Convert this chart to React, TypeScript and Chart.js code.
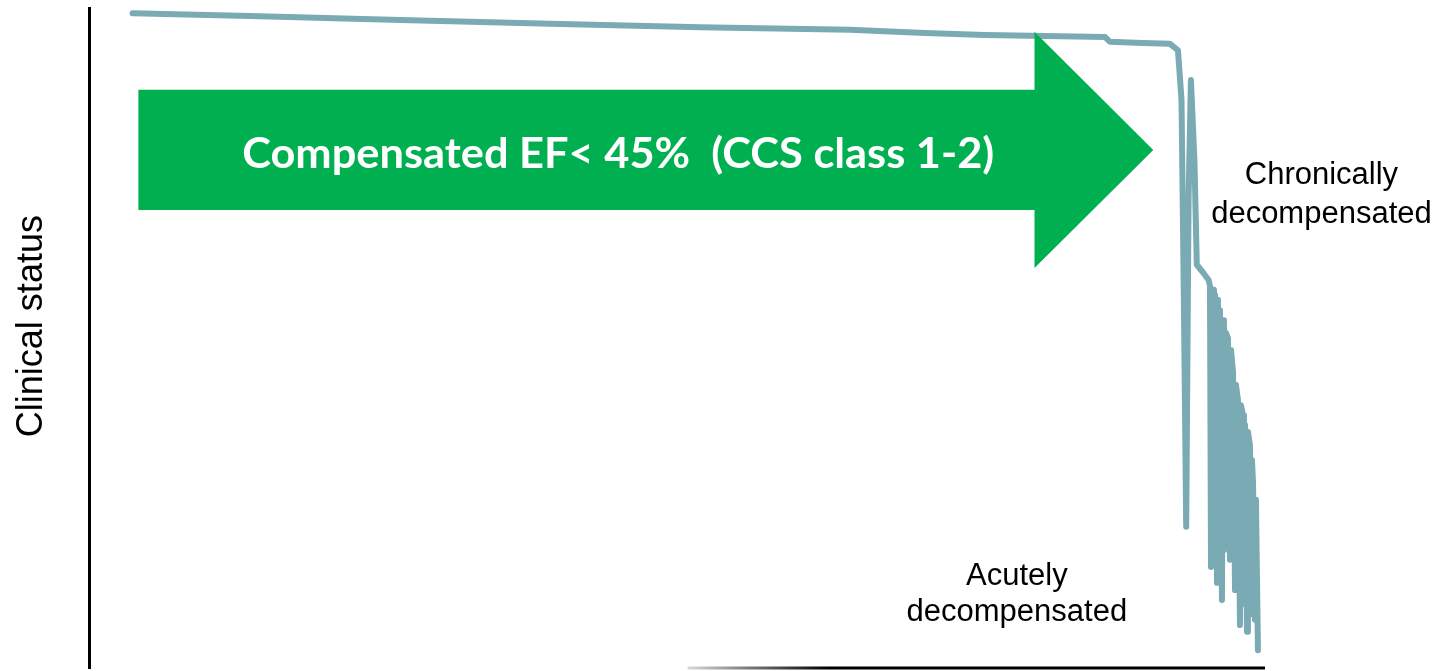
import React, { useEffect, useRef } from "react";
import { Chart, registerables } from "chart.js";

Chart.register(...registerables);

// Time (arbitrary units, 0..100) and clinical status (0..100)
const timeValues = [
  3.7, 13.7, 26.5, 39.2, 52.0, 64.7, 71.1, 76.2, 86.4, 86.8, 89.6, 91.9,
  92.6, 92.9, 93.1, 93.3, 93.5, 93.7, 94.0, 94.2, 94.7, 95.2,
  95.32, 95.41, 95.58, 95.66, 95.75, 95.92, 96.0, 96.09, 96.17, 96.34,
  96.43, 96.51, 96.68, 96.85, 97.02, 97.11, 97.28, 97.45, 97.53, 97.7,
  97.87, 97.96, 98.13, 98.21, 98.3, 98.47, 98.55, 98.72, 98.81, 98.89,
  98.98, 99.15, 99.23, 99.4,
];
const statusValues = [
  99.2, 98.8, 98.2, 97.6, 97.1, 96.7, 96.2, 95.9, 95.6, 94.9, 94.7, 94.6,
  93.6, 86.1, 55.8, 21.4, 70.9, 89.1, 77.0, 61.1, 60.0, 58.8,
  57.9, 15.3, 57.3, 19.4, 56.5, 12.9, 55.8, 16.4, 54.2, 10.3,
  52.7, 17.9, 50.8, 50.0, 16.4, 48.2, 44.8, 11.8, 42.9, 40.6,
  6.5, 39.8, 38.3, 9.7, 36.8, 5.5, 35.8, 33.8, 8.2, 31.5,
  28.2, 7.3, 25.5, 2.7,
];

const yAxisTitle = "Clinical status";
const arrowText = "Compensated EF< 45%  (CCS class 1-2)";
const chronicLabel = ["Chronically", "decompensated"];
const acuteLabel = ["Acutely", "decompensated"];

// arrow shape in data units [time, status]
const arrowBody = { t0: 4.2, t1: 80.4, sTop: 87.6, sBottom: 69.4 };
const arrowHead = { sTop: 96.4, sBottom: 60.6, tTip: 90.5, sTip: 78.5 };
const arrowTextPos = { t: 45.0, s: 75.8 };
const chronicPos = { t: 104.8, s: [73.3, 67.4] };
const acutePos = { t: 78.9, s: [12.6, 7.1] };
const yTitlePos = { s: 51.8 };
const xAxisStart = 50.9;

const LINE_COLOR = "rgb(122,171,180)";
const GREEN = "#00b050";

const decorPlugin = {
  id: "decor",
  afterDatasetsDraw(chart: any) {
    const ctx = chart.ctx;
    const x = chart.scales.x;
    const y = chart.scales.y;
    const px = (t: number) => x.getPixelForValue(t);
    const py = (s: number) => y.getPixelForValue(s);

    ctx.save();
    // y axis title
    ctx.save();
    ctx.font = "36px 'Liberation Sans', Arial, sans-serif";
    ctx.fillStyle = "#000";
    ctx.textAlign = "center";
    ctx.textBaseline = "middle";
    ctx.translate(chart.chartArea.left - 57, py(yTitlePos.s));
    ctx.rotate(-Math.PI / 2);
    ctx.fillText(yAxisTitle, 0, 0);
    ctx.restore();

    // partial x axis with fade
    const xa0 = px(xAxisStart);
    const xa1 = px(100);
    const yb = chart.chartArea.bottom;
    const grad = ctx.createLinearGradient(xa0, 0, xa0 + 140, 0);
    grad.addColorStop(0, "rgba(0,0,0,0.15)");
    grad.addColorStop(1, "rgba(0,0,0,1)");
    ctx.strokeStyle = grad;
    ctx.lineWidth = 3;
    ctx.beginPath();
    ctx.moveTo(xa0, yb);
    ctx.lineTo(xa1, yb);
    ctx.stroke();

    // arrow
    ctx.fillStyle = GREEN;
    ctx.beginPath();
    ctx.moveTo(px(arrowBody.t0), py(arrowBody.sTop));
    ctx.lineTo(px(arrowBody.t1), py(arrowBody.sTop));
    ctx.lineTo(px(arrowBody.t1), py(arrowHead.sTop));
    ctx.lineTo(px(arrowHead.tTip), py(arrowHead.sTip));
    ctx.lineTo(px(arrowBody.t1), py(arrowHead.sBottom));
    ctx.lineTo(px(arrowBody.t1), py(arrowBody.sBottom));
    ctx.lineTo(px(arrowBody.t0), py(arrowBody.sBottom));
    ctx.closePath();
    ctx.fill();

    // arrow text
    ctx.font = "bold 42px Lato, 'Open Sans', sans-serif";
    ctx.fillStyle = "#ffffff";
    ctx.textAlign = "center";
    ctx.textBaseline = "alphabetic";
    const w = ctx.measureText(arrowText).width;
    const targetW = 752;
    ctx.save();
    ctx.translate(px(arrowTextPos.t), py(arrowTextPos.s));
    ctx.scale(targetW / w, 1);
    ctx.fillText(arrowText, 0, 0);
    ctx.restore();

    // labels
    ctx.font = "31px 'Liberation Sans', Arial, sans-serif";
    ctx.fillStyle = "#000000";
    chronicLabel.forEach((l, i) => ctx.fillText(l, px(chronicPos.t), py(chronicPos.s[i])));
    acuteLabel.forEach((l, i) => ctx.fillText(l, px(acutePos.t), py(acutePos.s[i])));
    ctx.restore();
  },
};

export default function App() {
  const ref = useRef<HTMLCanvasElement>(null);
  useEffect(() => {
    if (!ref.current) return;
    const chart = new Chart(ref.current, {
      type: "line",
      data: {
        datasets: [
          {
            data: timeValues.map((t, i) => ({ x: t, y: statusValues[i] })),
            borderColor: LINE_COLOR,
            borderWidth: 6,
            pointRadius: 0,
            tension: 0,
            borderJoinStyle: "round",
            borderCapStyle: "round",
            clip: false as any,
          },
        ],
      },
      options: {
        animation: false,
        responsive: false,
        layout: { padding: { left: 89, right: 186, top: 8, bottom: 3 } },
        plugins: { legend: { display: false }, tooltip: { enabled: false } },
        scales: {
          x: { type: "linear", min: 0, max: 100, display: false },
          y: {
            type: "linear",
            min: 0,
            max: 100,
            display: true,
            ticks: { display: false },
            grid: { display: false, drawTicks: false },
            border: { display: true, color: "#000000", width: 3 },
            title: { display: false },
          },
        },
      },
      plugins: [decorPlugin],
    });
    return () => chart.destroy();
  }, []);
  return (
    <div style={{ position: "fixed", left: 0, top: 0, width: 1451, height: 671, background: "#fff" }}>
      <canvas ref={ref} width={1451} height={671} style={{ display: "block" }} />
    </div>
  );
}
